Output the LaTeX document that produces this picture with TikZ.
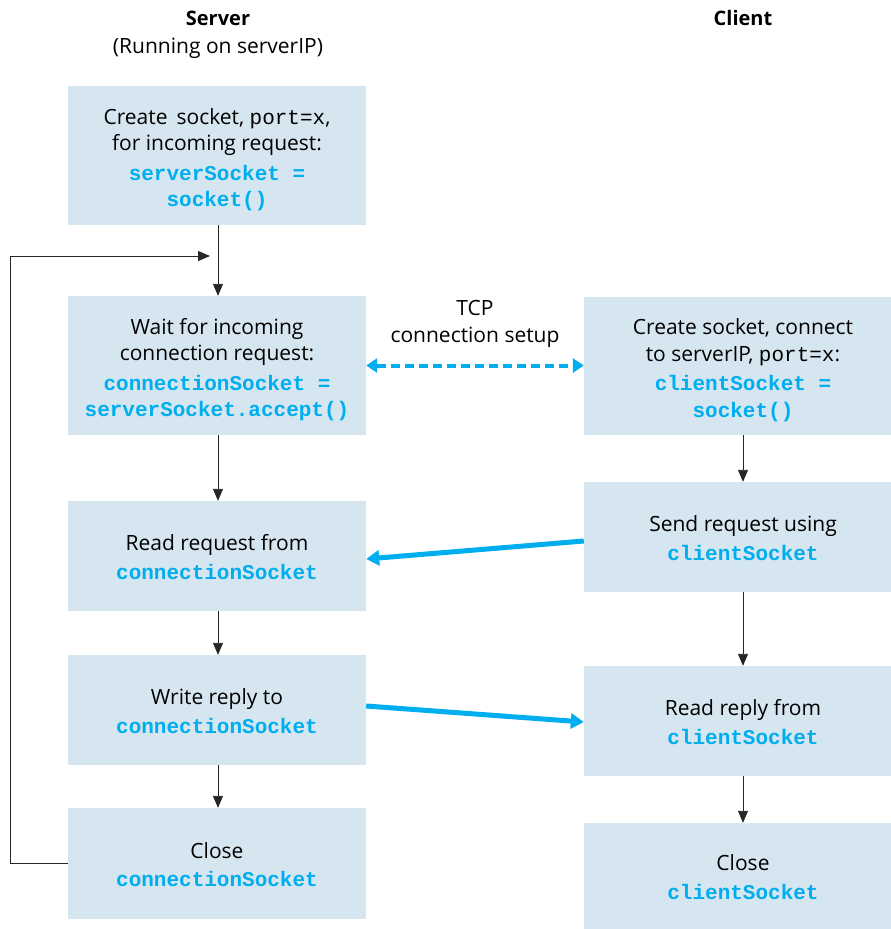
\documentclass[tikz,border=0pt]{standalone}
\usepackage{fontspec}
\setmainfont{Open Sans}
\setmonofont{Liberation Mono}
\usetikzlibrary{arrows.meta}
\definecolor{boxfill}{HTML}{D5E6F0}
\definecolor{cblue}{HTML}{00AEEF}
\newcommand{\cd}[1]{\textcolor{cblue}{\fontsize{21}{26.5}\ttfamily\bfseries #1}}
\newcommand{\pcode}[1]{{\fontsize{21}{26.5}\ttfamily #1}}
\begin{document}
\begin{tikzpicture}[x=1pt,y=-1pt,
  font=\fontsize{21}{26.5}\selectfont,
  box/.style={fill=boxfill, draw=none, inner sep=0pt},
  sbox/.style={box, minimum width=298pt},
  cbox/.style={box, minimum width=307pt},
  lbl/.style={align=center, inner sep=0pt},
  hdr/.style={font=\fontsize{20}{24}\selectfont\bfseries},
  arr/.style={-{Triangle[length=12pt,width=10pt]}, line width=0.9pt, black!85},
  barr/.style={-{Triangle[length=13pt,width=15pt]}, line width=5pt, cblue},
  darr/.style={{Triangle[length=11pt,width=14pt]}-{Triangle[length=11pt,width=14pt]}, line width=4pt, cblue, dash pattern=on 9pt off 5pt}]
\useasboundingbox (0,0) rectangle (891,929);

\node[hdr] (hs) at (218,18) {Server};
\node (hsr) at (218,48) {(Running on serverIP)};
\node[hdr] (hc) at (743,18) {Client};

% server boxes
\node[sbox, minimum height=139pt] (s1) at (217,155.5) {};
\node[lbl] (t1) at ([yshift=-4pt]s1.center) {Create\, socket, \pcode{port=x},\\ for incoming request:\\[3pt] \cd{serverSocket =}\\ \cd{socket()}};
\node[sbox, minimum height=139pt] (s2) at (217,365.5) {};
\node[lbl] (t2) at ([yshift=-4pt]s2.center) {Wait for incoming\\ connection request:\\[3pt] \cd{connectionSocket =}\\ \cd{serverSocket.accept()}};
\node[sbox, minimum height=110pt] (s3) at (217,556) {};
\node[lbl] (t3) at ([yshift=-1pt]s3.center) {Read request from\\[2pt] \cd{connectionSocket}};
\node[sbox, minimum height=110pt] (s4) at (217,710) {};
\node[lbl] (t4) at ([yshift=-1pt]s4.center) {Write reply to\\[2pt] \cd{connectionSocket}};
\node[sbox, minimum height=111pt] (s5) at (217,863.5) {};
\node[lbl] (t5) at ([yshift=-1pt]s5.center) {Close\\[2pt] \cd{connectionSocket}};

% client boxes
\node[cbox, minimum height=138pt] (c1) at (737.5,366) {};
\node[lbl] (u1) at ([xshift=5.5pt,yshift=-4pt]c1.center) {Create socket, connect\\ to serverIP, \pcode{port=x}:\\[3pt] \cd{clientSocket =}\\ \cd{socket()}};
\node[cbox, minimum height=110pt] (c2) at (737.5,537) {};
\node[lbl] (u2) at ([xshift=5.5pt,yshift=-1pt]c2.center) {Send request using\\[2pt] \cd{clientSocket}};
\node[cbox, minimum height=110pt] (c3) at (737.5,721) {};
\node[lbl] (u3) at ([xshift=5.5pt,yshift=-1pt]c3.center) {Read reply from\\[2pt] \cd{clientSocket}};
\node[cbox, minimum height=106pt] (c4) at (737.5,876) {};
\node[lbl] (u4) at ([xshift=5.5pt,yshift=-1pt]c4.center) {Close\\[2pt] \cd{clientSocket}};

% TCP label
\node[lbl] (tcp) at (475,324) {TCP\\ connection setup};

% server vertical arrows
\draw[arr] ([xshift=1pt]s1.south) -- ([xshift=1pt]s2.north);
\draw[arr] ([xshift=1pt]s2.south) -- ([xshift=1pt]s3.north);
\draw[arr] ([xshift=1pt]s3.south) -- ([xshift=1pt]s4.north);
\draw[arr] ([xshift=1pt]s4.south) -- ([xshift=1pt]s5.north);
% loop
\coordinate (loopend) at (210,256);
\draw[arr] (s5.west) -- ++(-57,0) |- (loopend);

% client vertical arrows
\draw[arr] ([xshift=5.5pt]c1.south) -- ([xshift=5.5pt]c2.north);
\draw[arr] ([xshift=5.5pt]c2.south) -- ([xshift=5.5pt]c3.north);
\draw[arr] ([xshift=5.5pt]c3.south) -- ([xshift=5.5pt]c4.north);

% blue arrows
\draw[darr] (s2.east) -- (c1.west |- s2.east);
\draw[barr] ([yshift=-4pt]c2.west) -- ([yshift=-3pt]s3.east);
\draw[barr] ([yshift=4pt]s4.east) -- ([yshift=-1pt]c3.west);
\end{tikzpicture}
\end{document}
